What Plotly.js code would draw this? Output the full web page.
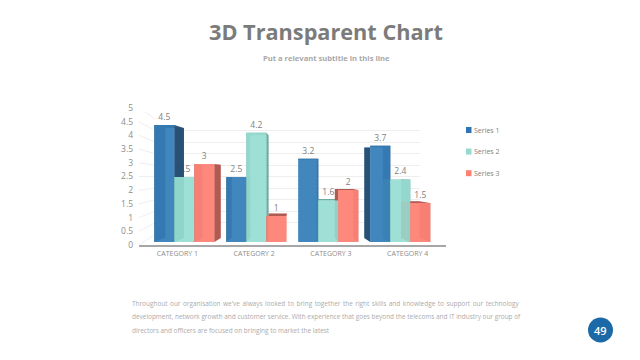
<!DOCTYPE html>
<html>
<head>
<meta charset="utf-8">
<script src="https://cdn.plot.ly/plotly-3.0.1.min.js"></script>
<style>html,body{margin:0;padding:0;background:#fff}#c{width:640px;height:360px}</style>
</head>
<body>
<div id="c"></div>
<script>
const categories = ['CATEGORY 1', 'CATEGORY 2', 'CATEGORY 3', 'CATEGORY 4'];
const seriesNames = ['Series 1', 'Series 2', 'Series 3'];
const series1 = [4.5, 2.5, 3.2, 3.7];
const series2 = [2.5, 4.2, 1.6, 2.4];
const series3 = [3, 1, 2, 1.5];
const allSeries = [series1, series2, series3];
const frontColors = ['rgba(52,126,186,0.88)', 'rgba(152,222,211,0.88)', 'rgba(254,130,118,0.92)'];
const sideColors = ['rgba(32,72,108,0.92)', 'rgba(95,160,148,0.85)', 'rgba(165,75,68,0.88)'];
const backColors = ['rgba(60,130,185,0.5)', 'rgba(160,222,212,0.5)', 'rgba(250,140,130,0.5)'];
const legendColors = ['#2E75B6', '#94DACF', '#FD8072'];
const yTicks = [0, 0.5, 1, 1.5, 2, 2.5, 3, 3.5, 4, 4.5, 5];
const titleText = '3D Transparent Chart';
const subtitleText = 'Put a relevant subtitle in this line';
const bodyLines = [
  "Throughout our organisation we've always looked to bring together the right skills and knowledge to support our technology",
  "development, network growth and customer service. With experience that goes beyond the telecoms and IT industry our group of",
  "directors and officers are focused on bringing to market the latest"
];
const pageNumber = '49';

// layout helpers (pixel -> paper)
const W = 640, H = 360;
const px = v => v / W, py = v => 1 - v / H;

// bar scale: 72px per category, 26px per value unit, baseline at y=242
const barW = 20 / 72;
const x0px = 184.3, base = 242, uy = 26, ux = 72;
const xMin = (139 - x0px) / ux, xMax = (446 - x0px) / ux;
const yMin = -0.5, yMax = 5;
const dom = {x: [px(139), px(446)], y: [py(base - yMin * uy), py(base - yMax * uy)]};

// perspective used to derive depth faces from each value
const kx = 0.92, vx = (295 - x0px) / ux;
const ky = 0.94, vy = (base - 175) / uy;
const bx = x => kx * x + (1 - kx) * vx;
const by = y => ky * y + (1 - ky) * vy;
const labelLift = 3 / uy;

const traces = [];

// wall grid subplot (dummy trace keeps the subplot alive)
traces.push({type: 'scatter', x: [0], y: [null], xaxis: 'x', yaxis: 'y', mode: 'lines', showlegend: false, hoverinfo: 'skip'});
// category/tick axes subplot
traces.push({type: 'scatter', x: categories, y: categories.map(() => null), xaxis: 'x2', yaxis: 'y2', mode: 'lines', showlegend: false, hoverinfo: 'skip'});

// diagonal floor-to-wall tick lines
const diagX = [], diagY = [];
yTicks.forEach(t => {
  const yFront = 245 - 27.4 * t;
  const yBack = 234.3 - 23.05 * t;
  diagX.push(xMin, (155 - x0px) / ux, null);
  diagY.push((base - yFront) / uy, (base - yBack) / uy, null);
});
traces.push({type: 'scatter', x: diagX, y: diagY, xaxis: 'x3', yaxis: 'y3', mode: 'lines',
  line: {color: '#eeeeee', width: 1}, showlegend: false, hoverinfo: 'skip'});

// data labels sit underneath the depth faces
const lx = [], ly = [], lt = [];
allSeries.forEach((s, si) => s.forEach((v, i) => {
  lx.push(i + (si - 1) * barW); ly.push(v + labelLift); lt.push(String(v));
}));
traces.push({type: 'scatter', x: lx, y: ly, text: lt, mode: 'text', textposition: 'top center',
  textfont: {family: 'Open Sans', size: 8.5, color: '#7f7f7f'}, xaxis: 'x3', yaxis: 'y3',
  showlegend: false, hoverinfo: 'skip', cliponaxis: false});

// depth faces
function poly(pts, xs, ys) { pts.forEach(p => { xs.push(p[0]); ys.push(p[1]); }); xs.push(pts[0][0], null); ys.push(pts[0][1], null); }
allSeries.forEach((s, si) => {
  const bkx = [], bky = [], sdx = [], sdy = [];
  s.forEach((v, i) => {
    const c = i + (si - 1) * barW, l = c - barW / 2, r = c + barW / 2;
    poly([[bx(l), by(0)], [bx(r), by(0)], [bx(r), by(v)], [bx(l), by(v)]], bkx, bky);
    poly([[l, 0], [r, 0], [bx(r), by(0)], [bx(l), by(0)]], bkx, bky);
    poly([[l, 0], [l, v], [bx(l), by(v)], [bx(l), by(0)]], sdx, sdy);
    poly([[r, 0], [r, v], [bx(r), by(v)], [bx(r), by(0)]], sdx, sdy);
    poly([[l, v], [r, v], [bx(r), by(v)], [bx(l), by(v)]], sdx, sdy);
  });
  traces.push({type: 'scatter', x: bkx, y: bky, xaxis: 'x3', yaxis: 'y3', mode: 'lines', fill: 'toself',
    fillcolor: backColors[si], line: {width: 0}, showlegend: false, hoverinfo: 'skip'});
  traces.push({type: 'scatter', x: sdx, y: sdy, xaxis: 'x3', yaxis: 'y3', mode: 'lines', fill: 'toself',
    fillcolor: sideColors[si], line: {width: 0}, showlegend: false, hoverinfo: 'skip'});
});

// front faces
allSeries.forEach((s, si) => {
  traces.push({type: 'bar', name: seriesNames[si], x: s.map((_, i) => i + (si - 1) * barW), y: s, width: barW,
    xaxis: 'x4', yaxis: 'y4', marker: {color: frontColors[si], line: {width: 0}}, showlegend: false, hoverinfo: 'skip'});
});

const hidden = {showgrid: false, zeroline: false, showticklabels: false, showline: false, ticks: '', fixedrange: true};
const shapes = [{type: 'circle', xref: 'paper', yref: 'paper',
  x0: px(588), x1: px(613), y0: py(342.5), y1: py(317.5), fillcolor: '#1B6AA7', line: {width: 0}}];
const annotations = [];
const note = (text, x, y, size, color, anchor, weight) => annotations.push({
  text, xref: 'paper', yref: 'paper', x: px(x), y: py(y), xanchor: anchor, yanchor: 'middle', showarrow: false,
  font: {family: 'Open Sans', size, color, weight: weight || 400}, borderpad: 0, captureevents: false});

note(titleText, 326, 31.5, 21.7, '#7b7b7b', 'center', 700);
note(subtitleText, 326, 58, 7.6, '#a9a9a9', 'center', 700);
note('<span style="word-spacing:0.85px">' + bodyLines[0] + '</span>', 131, 303, 6.45, '#ababab', 'left');
note(bodyLines[1], 131, 316.5, 6.45, '#ababab', 'left');
note(bodyLines[2], 131, 330, 6.45, '#ababab', 'left');
note(pageNumber, 600.5, 330, 11, '#ffffff', 'center', 600);

seriesNames.forEach((n, i) => {
  const cy = 130 + i * 21.6;
  shapes.push({type: 'rect', xref: 'paper', yref: 'paper', x0: px(466), x1: px(471.5), y0: py(cy + 3), y1: py(cy - 3),
    fillcolor: legendColors[i], line: {width: 0}});
  note(n, 473, cy, 7, '#7f7f7f', 'left');
});

const layout = {
  width: W, height: H, autosize: false, showlegend: false, barmode: 'overlay',
  paper_bgcolor: '#ffffff', plot_bgcolor: 'rgba(0,0,0,0)', margin: {l: 0, r: 0, t: 0, b: 0},
  hovermode: false,
  xaxis: Object.assign({}, hidden, {domain: [px(155), px(420)], range: [0, 1], anchor: 'y'}),
  yaxis: {domain: [py(234.3), py(119)], range: [0, 5], dtick: 0.5, anchor: 'x', showgrid: true, gridcolor: '#eeeeee', gridwidth: 1,
    zeroline: false, showticklabels: false, showline: false, ticks: '', fixedrange: true},
  xaxis2: {domain: [px(139), px(446)], anchor: 'y2', type: 'category', categoryorder: 'array', categoryarray: categories,
    range: [-0.5, 3.5], showgrid: false, zeroline: false, showline: true, linecolor: '#a6a6a6', linewidth: 2, ticks: '',
    ticklabelstandoff: 1, tickfont: {family: 'Open Sans', size: 7, color: '#8c8c8c'}, fixedrange: true},
  yaxis2: {domain: [py(245), py(108)], anchor: 'x2', range: [0, 5], tickvals: yTicks, ticktext: yTicks.map(String), showgrid: false,
    zeroline: false, showline: false, ticks: '', ticklabelstandoff: 5, tickfont: {family: 'Open Sans', size: 8.5, color: '#8c8c8c'}, fixedrange: true},
  xaxis3: Object.assign({}, hidden, {domain: dom.x, range: [xMin, xMax], anchor: 'y3'}),
  yaxis3: Object.assign({}, hidden, {domain: dom.y, range: [yMin, yMax], anchor: 'x3'}),
  xaxis4: Object.assign({}, hidden, {domain: dom.x, range: [xMin, xMax], anchor: 'y4'}),
  yaxis4: Object.assign({}, hidden, {domain: dom.y, range: [yMin, yMax], anchor: 'x4'}),
  shapes, annotations
};
Plotly.newPlot('c', traces, layout, {displayModeBar: false, staticPlot: true});
</script>
</body>
</html>
